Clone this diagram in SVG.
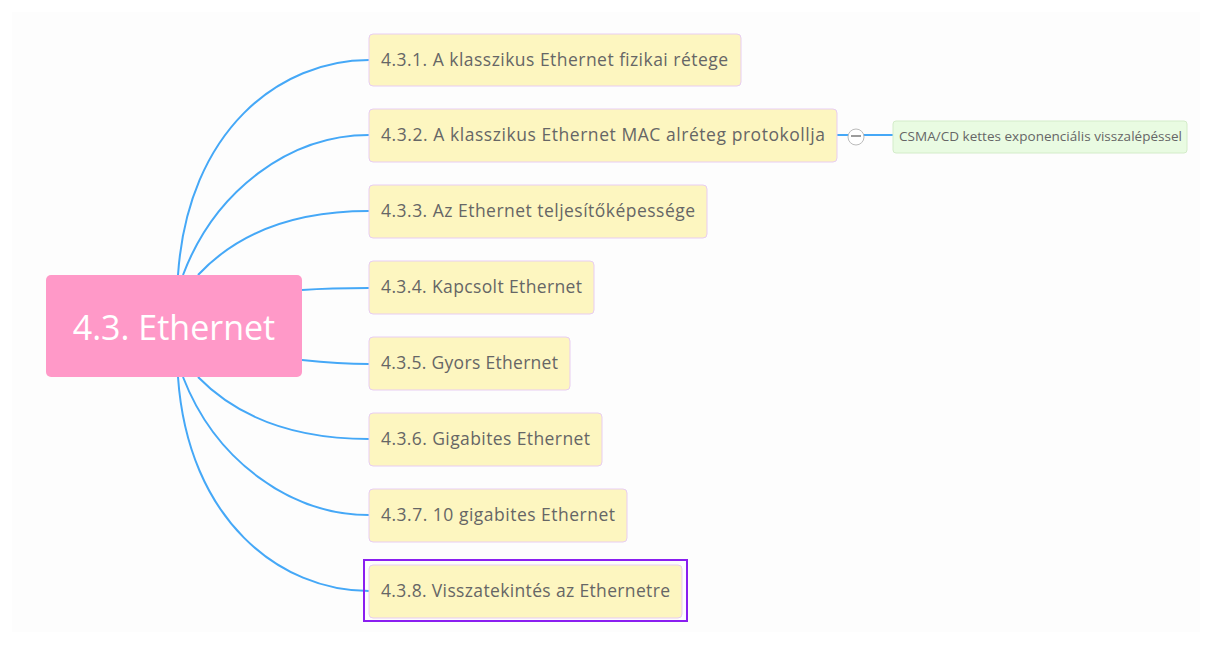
<svg xmlns="http://www.w3.org/2000/svg" width="1213" height="650" viewBox="0 0 1213 650">
<style>
.bg{fill:#fdfdfd}
.conn{fill:none;stroke:#45a8f7;stroke-width:2}
.box{fill:#fdf6c0;stroke:#e8cdf2;stroke-width:1}
.lbl{font-family:"Open Sans","Noto Sans",sans-serif;font-size:17.5px;fill:#666666}
.sub{fill:#e9fbe2;stroke:#d3ecc9;stroke-width:1}
.slbl{font-family:"Open Sans","Noto Sans",sans-serif;font-size:13.5px;fill:#666666}
</style>
<rect width="1213" height="650" fill="#ffffff"/>
<rect class="bg" x="12" y="12" width="1188" height="620"/>
<g id="connectors">
<path class="conn" d="M178,275 C188,130 280,60 369,60"/>
<path class="conn" d="M183,275 C215,190 290,135 369,135"/>
<path class="conn" d="M198,275 C240,230 300,211 369,211"/>
<path class="conn" d="M302,290 C330,288 345,288 369,288"/>
<path class="conn" d="M302,360 C330,363 345,364 369,364"/>
<path class="conn" d="M198,377 C240,420 300,439 369,439"/>
<path class="conn" d="M183,377 C215,460 290,515 369,515"/>
<path class="conn" d="M178,377 C188,520 280,591 369,591"/>
<path class="conn" d="M837,135 L893,135"/>
</g>
<g id="root">
<rect x="46" y="275" width="256" height="102" rx="5" fill="#ff99c8"/>
<text x="174" y="340" text-anchor="middle" font-family="'Open Sans','Noto Sans',sans-serif" font-size="34" fill="#ffffff">4.3. Ethernet</text>
</g>
<g id="n1"><rect class="box" x="369" y="34" width="372" height="52" rx="4"/><text class="lbl" x="381" y="66" textLength="347" lengthAdjust="spacing">4.3.1. A klasszikus Ethernet fizikai rétege</text></g>
<g id="n2"><rect class="box" x="369" y="109" width="468" height="53" rx="4"/><text class="lbl" x="381" y="141" textLength="444" lengthAdjust="spacing">4.3.2. A klasszikus Ethernet MAC alréteg protokollja</text></g>
<g id="n3"><rect class="box" x="369" y="185" width="338" height="53" rx="4"/><text class="lbl" x="381" y="217" textLength="314" lengthAdjust="spacing">4.3.3. Az Ethernet teljesítőképessége</text></g>
<g id="n4"><rect class="box" x="369" y="261" width="225" height="53" rx="4"/><text class="lbl" x="381" y="293" textLength="201" lengthAdjust="spacing">4.3.4. Kapcsolt Ethernet</text></g>
<g id="n5"><rect class="box" x="369" y="337" width="201" height="53" rx="4"/><text class="lbl" x="381" y="369" textLength="177" lengthAdjust="spacing">4.3.5. Gyors Ethernet</text></g>
<g id="n6"><rect class="box" x="369" y="413" width="233" height="53" rx="4"/><text class="lbl" x="381" y="445" textLength="209" lengthAdjust="spacing">4.3.6. Gigabites Ethernet</text></g>
<g id="n7"><rect class="box" x="369" y="489" width="258" height="53" rx="4"/><text class="lbl" x="381" y="521" textLength="234" lengthAdjust="spacing">4.3.7. 10 gigabites Ethernet</text></g>
<g id="n8">
<rect x="364" y="560" width="323" height="61" fill="none" stroke="#8a1ef0" stroke-width="2"/>
<rect class="box" x="369" y="565" width="313" height="53" rx="4"/><text class="lbl" x="381" y="597" textLength="289" lengthAdjust="spacing">4.3.8. Visszatekintés az Ethernetre</text></g>
<g id="collapse">
<circle cx="856" cy="137" r="8" fill="#ffffff" stroke="#bbbbbb" stroke-width="1"/>
<line x1="851" y1="136" x2="861" y2="136" stroke="#666666" stroke-width="1.3"/>
</g>
<g id="n2-1"><rect class="sub" x="893" y="121" width="294" height="32" rx="3"/><text class="slbl" x="899" y="141" textLength="283" lengthAdjust="spacing">CSMA/CD kettes exponenciális visszalépéssel</text></g>
</svg>
